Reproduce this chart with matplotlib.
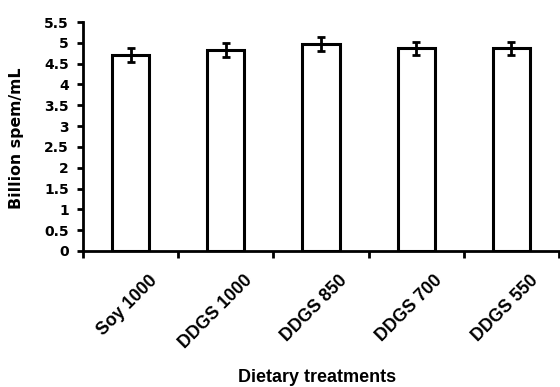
import numpy as np
import matplotlib
matplotlib.use("Agg")
import matplotlib.pyplot as plt
from matplotlib.transforms import ScaledTranslation

# sperm concentration by dietary treatment
treatments = ["Soy 1000", "DDGS 1000", "DDGS 850", "DDGS 700", "DDGS 550"]
conc = [4.71, 4.83, 4.97, 4.87, 4.87]
conc_se = [0.16, 0.16, 0.17, 0.16, 0.16]
yticks = [0, 0.5, 1, 1.5, 2, 2.5, 3, 3.5, 4, 4.5, 5, 5.5]

wide = ["DejaVu Sans"]
narrow = ["Liberation Sans", "DejaVu Sans"]

fig = plt.figure(figsize=(5.6, 3.87), dpi=100)
ax = fig.add_axes([83 / 560, 1 - 251 / 387, 476 / 560, 229 / 387])

x = np.arange(len(treatments))
ax.bar(x, conc, width=0.39, color="white", edgecolor="black", linewidth=2.2,
       yerr=conc_se, error_kw=dict(ecolor="black", elinewidth=2, capsize=3, capthick=2))

ax.set_xlim(-0.5, len(treatments) - 0.5)
ax.set_ylim(0, 5.5)
ax.set_yticks(yticks)
ax.set_yticklabels([f"{v:g}" for v in yticks], fontsize=10, fontweight="bold", family=wide)

# boundary ticks between categories, labels centred under the bars
ax.set_xticks(np.arange(-0.5, len(treatments)), minor=True)
ax.set_xticks(x)
ax.set_xticklabels(treatments, rotation=45, ha="right", va="center",
                   rotation_mode="anchor", fontsize=12.8, fontweight="bold", family=narrow)
ax.tick_params(axis="x", which="major", length=0, pad=0)
ax.tick_params(axis="x", which="minor", length=5, width=2, direction="out")
ax.tick_params(axis="y", length=4.5, width=2, direction="out", pad=5.5)
offset = ScaledTranslation(24 / 100, -27 / 100, fig.dpi_scale_trans)
for lbl in ax.get_xticklabels():
    lbl.set_transform(lbl.get_transform() + offset)

for side in ["top", "right"]:
    ax.spines[side].set_visible(False)
for side in ["left", "bottom"]:
    ax.spines[side].set_linewidth(2)

fig.text(17 / 560, 1 - 138 / 387, "Billion spem/mL", rotation=90, ha="center", va="center",
         fontsize=11.3, fontweight="bold", family=wide)
fig.text(317 / 560, 1 - 382.5 / 387, "Dietary treatments", ha="center", va="baseline",
         fontsize=13, fontweight="bold", family=narrow)

fig.savefig("out.png", dpi=100)
